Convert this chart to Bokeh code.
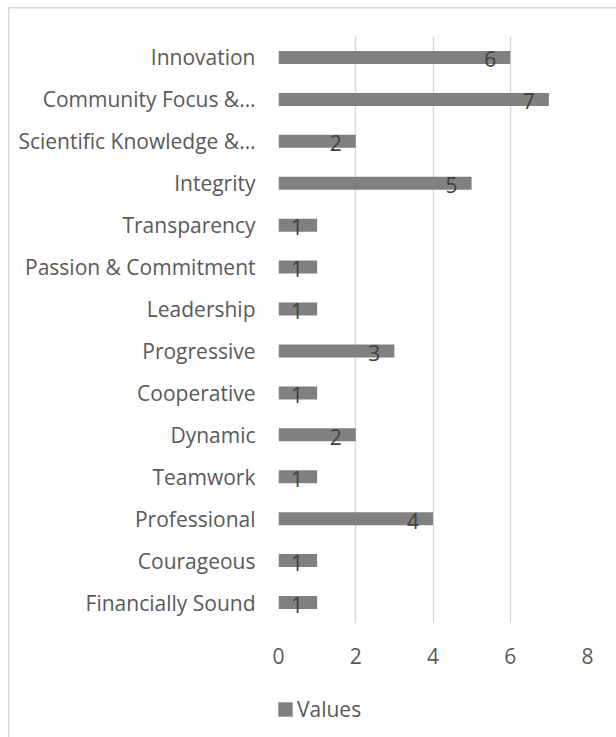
from bokeh.plotting import figure
from bokeh.layouts import column
from bokeh.models import FactorRange, Range1d, FixedTicker, Legend, LegendItem, ColumnDataSource
from bokeh.embed import file_html
from bokeh.resources import INLINE

categories = ["Innovation", "Community Focus &…", "Scientific Knowledge &…", "Integrity",
              "Transparency", "Passion & Commitment", "Leadership", "Progressive",
              "Cooperative", "Dynamic", "Teamwork", "Professional", "Courageous",
              "Financially Sound"]
values = [6, 7, 2, 5, 1, 1, 1, 3, 1, 2, 1, 4, 1, 1]
x_ticks = [0, 2, 4, 6, 8]
series_name = "Values"

FONT = "Open Sans"
TEXT = "#595959"
FS = "21px"
BAR = "#808080"
LINE = "linear-gradient(#d9d9d9,#d9d9d9)"

src = ColumnDataSource(dict(cat=categories, val=values, lab=[str(v) for v in values]))

p = figure(width=616, height=680, output_backend="svg", toolbar_location=None,
           y_range=FactorRange(factors=list(reversed(categories)), range_padding=0),
           x_range=Range1d(0, 8),
           min_border_left=278, min_border_right=29, min_border_top=36, min_border_bottom=57)
# chart-area border (top and left edges) drawn behind a transparent canvas
p.styles = {
    "background": (f"{LINE} 8px 7px / 1.5px 100% no-repeat, "
                   f"{LINE} 8px 7px / 100% 1.5px no-repeat, white")
}
p.outline_line_color = None
p.background_fill_color = "white"
p.border_fill_alpha = 0

bars = p.hbar(y="cat", right="val", left=0, height=0.31, source=src,
              fill_color=BAR, line_color=None)
p.text(x="val", y="cat", text="lab", source=src, x_offset=-20, y_offset=2,
       text_align="center", text_baseline="middle", text_font_size=FS,
       text_color="#404040", text_font={"value": FONT})

p.xaxis.ticker = FixedTicker(ticks=x_ticks)
p.xaxis.axis_line_color = None
p.xaxis.major_tick_line_color = None
p.xaxis.major_tick_out = 0
p.xaxis.minor_tick_line_color = None
p.xaxis.minor_tick_out = 0
p.xaxis.major_label_standoff = 24
p.xaxis.major_label_text_font = FONT
p.xaxis.major_label_text_font_size = FS
p.xaxis.major_label_text_color = TEXT

p.yaxis.axis_line_color = None
p.yaxis.major_tick_line_color = None
p.yaxis.major_tick_out = 0
p.yaxis.major_label_standoff = 23
p.yaxis.major_label_text_font = FONT
p.yaxis.major_label_text_font_size = FS
p.yaxis.major_label_text_color = TEXT

p.ygrid.grid_line_color = None
p.xgrid.grid_line_color = "#d9d9d9"
p.xgrid.grid_line_width = 1.5

# legend strip below the chart (its frame is aligned with the chart's frame)
pl = figure(width=616, height=57, output_backend="svg", toolbar_location=None,
            x_range=Range1d(0, 1), y_range=Range1d(0, 1),
            x_axis_type=None, y_axis_type=None, min_border=0)
pl.styles = {"background": f"{LINE} 8px 0px / 1.5px 100% no-repeat, white"}
pl.outline_line_color = None
pl.grid.visible = False
pl.background_fill_alpha = 0
pl.border_fill_alpha = 0
swatch = pl.hbar(y=[-5], right=[-5], left=[-6], height=0.3, fill_color=BAR, line_color=None)

legend = Legend(items=[LegendItem(label=series_name, renderers=[swatch])],
                location=(-2, 14), orientation="horizontal",
                padding=0, margin=0, spacing=0,
                glyph_width=18, glyph_height=18, label_standoff=3,
                label_text_font=FONT, label_text_font_size=FS,
                label_text_color=TEXT, border_line_color=None,
                background_fill_alpha=0)
pl.add_layout(legend, "center")

layout = column(p, pl, spacing=0)
open("out.html", "w").write(file_html(layout, INLINE))
